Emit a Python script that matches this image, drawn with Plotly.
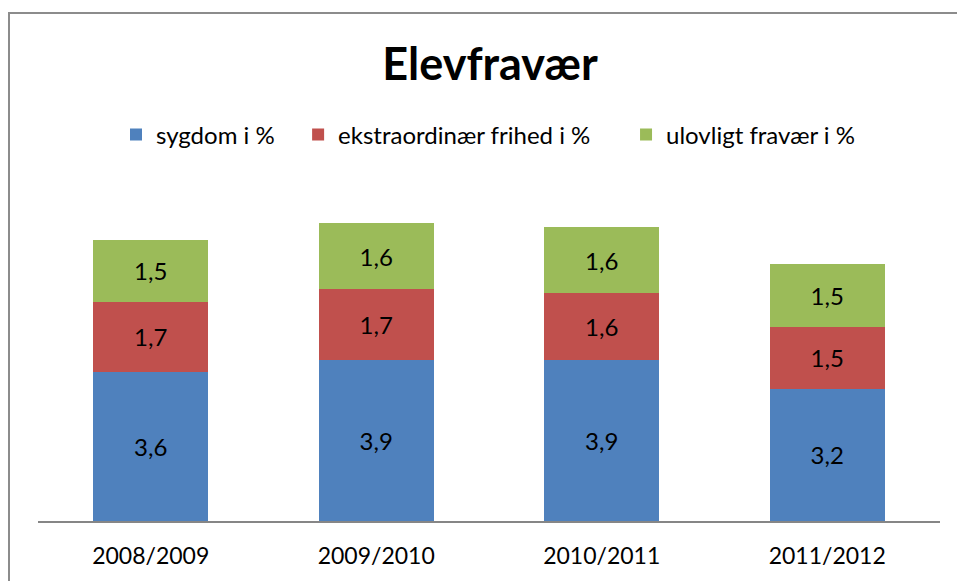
import plotly.graph_objects as go

categories = ["2008/2009", "2009/2010", "2010/2011", "2011/2012"]
sygdom = [3.6, 3.9, 3.9, 3.2]
ekstra = [1.7, 1.7, 1.6, 1.5]
ulovligt = [1.5, 1.6, 1.6, 1.5]
series_names = ["sygdom i %", "ekstraordinær frihed i %", "ulovligt fravær i %"]
colors = ["#4F81BD", "#C0504D", "#9BBB59"]

FONT = "Lato"
PADS = ["\u00a0" * 3, "\u00a0" * 5, ""]

fig = go.Figure()
for name, vals, col, pad in zip(series_names, [sygdom, ekstra, ulovligt], colors, PADS):
    fig.add_trace(go.Bar(
        x=categories, y=vals, name=name + pad,
        marker=dict(color=col, line=dict(width=0)),
        texttemplate="%{y:.1f}", textposition="inside",
        insidetextanchor="middle",
        textfont=dict(family=FONT, size=24, color="black"),
    ))

W, H = 957, 581
L, R = 38, 940
B, T = 521, 190
pw, ph = R - L, B - T

def px_x(x):
    return (x - L) / pw

def px_y(y):
    return (B - y) / ph

fig.update_layout(
    width=W, height=H,
    barmode="stack", bargap=0.49,
    separators=",.",
    margin=dict(l=L, r=W - R, t=T, b=H - B, pad=0),
    paper_bgcolor="white", plot_bgcolor="white",
    font=dict(family=FONT, color="black"),
    title=dict(text="<b>Elevfravær</b>", x=490 / W, xanchor="center",
               y=1 - 64 / H, yanchor="middle", yref="container",
               font=dict(family=FONT, size=45, color="black")),
    legend=dict(orientation="h", x=px_x(488), xanchor="center", y=px_y(135), yanchor="middle",
                font=dict(family=FONT, size=24, color="black"), traceorder="normal",
                itemwidth=30),
    showlegend=True,
    xaxis=dict(showline=True, linecolor="#868686", linewidth=1.5, ticks="",
               tickfont=dict(family=FONT, size=23, color="black"), showgrid=False,
               ticklabelstandoff=14),
    yaxis=dict(range=[0, 8], visible=False, showgrid=False),
    shapes=[
        dict(type="line", xref="paper", yref="paper",
             x0=px_x(9), x1=px_x(960), y0=px_y(13), y1=px_y(13),
             line=dict(color="#8C8C8C", width=2), layer="above"),
        dict(type="line", xref="paper", yref="paper",
             x0=px_x(9), x1=px_x(9), y0=px_y(12), y1=px_y(585),
             line=dict(color="#8C8C8C", width=2), layer="above"),
    ],
)

fig.write_html("out.html", config={"displayModeBar": False, "responsive": False},
               post_script="document.body.style.margin='0';document.body.style.overflow='hidden';"
                           "document.documentElement.style.overflow='hidden';")
